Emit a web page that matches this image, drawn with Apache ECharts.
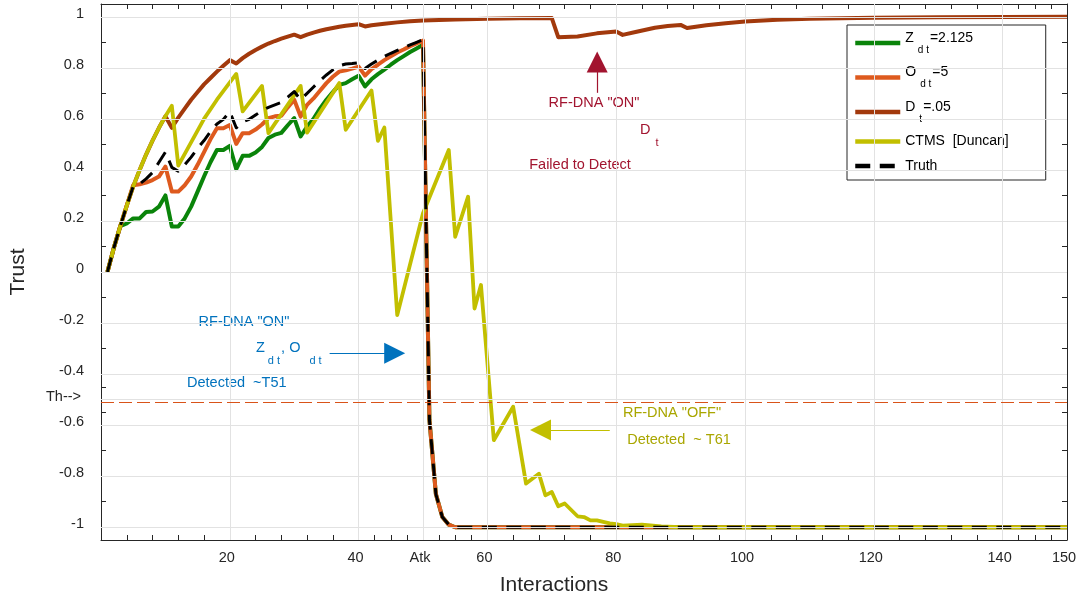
<!DOCTYPE html>
<html>
<head>
<meta charset="utf-8">
<script src="https://cdn.jsdelivr.net/npm/echarts@6/dist/echarts.min.js"></script>
<style>
  html, body { margin: 0; padding: 0; background: #fff; }
  #chart { width: 1082px; height: 602px; }
</style>
</head>
<body>
<div id="chart"></div>
<script>
// Trust per interaction, as [interaction, trust]
const zdt = [[1,0],[2,0.095],[3,0.18],[4,0.19],[5,0.21],[6,0.21],[7,0.235],[8,0.237],[9,0.256],[10,0.30],
  [11,0.178],[12,0.178],[13,0.21],[14,0.256],[15,0.315],[16,0.374],[17,0.43],[18,0.478],[19,0.478],[20,0.494],
  [21,0.403],[22,0.455],[23,0.455],[24,0.468],[25,0.49],[26,0.525],[27,0.538],[28,0.545],[29,0.575],[30,0.603],
  [31,0.531],[32,0.57],[33,0.60],[34,0.64],[35,0.675],[36,0.705],[37,0.733],[38,0.74],[39,0.755],[40,0.769],
  [41,0.727],[42,0.755],[43,0.775],[44,0.793],[45,0.812],[46,0.83],[47,0.846],[48,0.862],[49,0.876],[50,0.89],
  [51,-0.58],[52,-0.87],[53,-0.96],[54,-0.99],[55,-1],[150,-1]];

const odt = [[1,0],[2,0.095],[3,0.18],[4,0.26],[5,0.34],[6,0.344],[7,0.35],[8,0.36],[9,0.374],[10,0.413],
  [11,0.315],[12,0.315],[13,0.34],[14,0.374],[15,0.42],[16,0.47],[17,0.52],[18,0.563],[19,0.563],[20,0.576],
  [21,0.502],[22,0.544],[23,0.544],[24,0.558],[25,0.578],[26,0.603],[27,0.61],[28,0.612],[29,0.645],[30,0.675],
  [31,0.609],[32,0.655],[33,0.68],[34,0.71],[35,0.74],[36,0.765],[37,0.785],[38,0.79],[39,0.797],[40,0.805],
  [41,0.769],[42,0.795],[43,0.812],[44,0.83],[45,0.845],[46,0.86],[47,0.872],[48,0.885],[49,0.896],[50,0.907],
  [51,-0.58],[52,-0.87],[53,-0.96],[54,-0.99],[55,-1],[150,-1]];

const dt = [[1,0],[2,0.095],[3,0.18],[4,0.26],[5,0.335],[6,0.40],[7,0.46],[8,0.515],[9,0.565],[10,0.61],
  [11,0.565],[12,0.605],[13,0.64],[14,0.675],[15,0.705],[16,0.735],[17,0.76],[18,0.785],[19,0.808],[20,0.83],
  [21,0.817],[22,0.838],[23,0.855],[24,0.87],[25,0.883],[26,0.895],[27,0.905],[28,0.914],[29,0.922],[30,0.93],
  [31,0.92],[32,0.93],[33,0.938],[34,0.945],[35,0.951],[36,0.956],[37,0.961],[38,0.965],[39,0.968],[40,0.971],
  [41,0.962],[42,0.967],[44,0.973],[46,0.978],[48,0.982],[50,0.985],[55,0.989],[60,0.992],[65,0.994],[70,0.995],
  [71,0.92],[74,0.923],[77,0.935],[80,0.942],[81,0.929],[83,0.94],[86,0.957],[88,0.964],[90,0.968],[91,0.956],
  [94,0.967],[97,0.975],[100,0.981],[105,0.988],[110,0.992],[120,0.996],[130,0.998],[140,0.999],[150,1.0]];

const ctms = [[1,0],[2,0.095],[3,0.18],[4,0.26],[5,0.335],[6,0.40],[7,0.46],[8,0.515],[9,0.565],[10,0.61],
  [11,0.651],[12,0.417],[16,0.60],[18,0.675],[21,0.776],[22,0.629],[25,0.729],[26,0.544],[31,0.729],[32,0.546],
  [37,0.74],[38,0.557],[42,0.711],[43,0.514],[44,0.566],[46,-0.169],[50,0.23],[54,0.478],[55,0.138],[57,0.295],
  [58,-0.143],[59,-0.051],[61,-0.659],[64,-0.528],[66,-0.829],[68,-0.79],[69,-0.875],[70,-0.862],[71,-0.918],[72,-0.907],
  [74,-0.957],[75,-0.96],[76,-0.973],[77,-0.973],[79,-0.985],[80,-0.988],[81,-0.994],[84,-0.99],[87,-0.997],[90,-1],[150,-1]];

const truth = [[1,0],[2,0.095],[3,0.18],[4,0.26],[5,0.335],[6,0.345],[7,0.365],[8,0.39],[9,0.43],[10,0.47],
  [11,0.41],[12,0.395],[13,0.42],[14,0.45],[15,0.485],[16,0.515],[17,0.55],[18,0.58],[19,0.598],[20,0.628],
  [21,0.565],[22,0.588],[23,0.598],[24,0.615],[25,0.632],[26,0.645],[27,0.655],[28,0.665],[29,0.685],[30,0.707],
  [31,0.675],[32,0.70],[33,0.725],[34,0.75],[35,0.772],[36,0.792],[37,0.808],[38,0.815],[39,0.817],[40,0.82],
  [41,0.797],[42,0.815],[43,0.83],[44,0.845],[45,0.857],[46,0.868],[47,0.879],[48,0.89],[49,0.90],[50,0.91],
  [51,-0.58],[52,-0.87],[53,-0.96],[54,-0.99],[55,-1],[150,-1]];

// Ticks and grid positions
const xMajor = [20, 40, 50, 60, 80, 100, 120, 140];
const xLabels = [20, 40, 50, 60, 80, 100, 120, 140, 150];
const xMinor = [4, 8, 12, 16, 24, 28, 32, 36, 42.5, 45, 47.5, 52.5, 55, 57.5, 64, 68, 72, 76,
  84, 88, 92, 96, 104, 108, 112, 116, 124, 128, 132, 136, 142.5, 145, 147.5];
const yMajor = [-1, -0.8, -0.6, -0.5, -0.4, -0.2, 0, 0.2, 0.4, 0.6, 0.8, 1];
const yMinor = [-0.9, -0.7, -0.55, -0.45, -0.3, -0.1, 0.1, 0.3, 0.5, 0.7, 0.9];
const attackAt = 50;
const thresholdTick = -0.5;
const thresholdLine = -0.506;

const FONT = '"Liberation Sans", Arial, Helvetica, sans-serif';
const AX = '#262626';
const GRID = '#e2e2e2';
const BLUE = '#0072BD';
const RED = '#A2142F';
const OLIVE_TXT = '#a9a600';
const OLIVE = '#c2bf00';

const names = ['Zdt', 'Odt', 'Dt', 'CTMS', 'Truth'];
const legendText = {
  Zdt: '{m|Z}{s|d t}{m|=2.125}',
  Odt: '{m|O}{s|d t}{m|=5}',
  Dt: '{m|D}{s|t}{m|=.05}',
  CTMS: 'CTMS  [Duncan]',
  Truth: 'Truth'
};

function tickAxis(kind, position, values, len, withLine) {
  const a = {
    type: 'value',
    position: position,
    axisLine: { show: withLine, onZero: false, lineStyle: { color: AX, width: 1 } },
    axisTick: { show: true, inside: true, length: len, customValues: values, lineStyle: { color: AX, width: 1 } },
    axisLabel: { show: false },
    splitLine: { show: false }
  };
  if (kind === 'x') { a.min = 0; a.max = 150; } else { a.min = -1.05; a.max = 1.05; }
  return a;
}

const xMain = tickAxis('x', 'bottom', xMajor, 10, true);
xMain.axisLabel = {
  show: true, customValues: xLabels, color: AX, fontSize: 14.5, fontFamily: FONT,
  margin: 10, padding: [0, 6, 0, 0],
  formatter: v => (v === attackAt ? 'Atk' : String(v))
};
xMain.name = 'Interactions';
xMain.nameLocation = 'middle';
xMain.nameGap = 35;
xMain.nameTextStyle = { fontSize: 21, color: AX, fontFamily: FONT, padding: [0, 60, 0, 0] };

const yMain = tickAxis('y', 'left', yMajor, 10, true);
yMain.axisLabel = {
  show: true, customValues: yMajor, color: AX, fontSize: 14.5, fontFamily: FONT,
  margin: 17, padding: [0, 0, 6, 0],
  formatter: v => (Math.abs(v - thresholdTick) < 1e-9 ? '{th|Th-->}' : String(v)),
  rich: { th: { fontSize: 14.5, color: AX, fontFamily: FONT, padding: [0, 3, 0, 0] } }
};
yMain.name = 'Trust';
yMain.nameLocation = 'middle';
yMain.nameGap = 72;
yMain.nameTextStyle = { fontSize: 21, color: AX, fontFamily: FONT };

function lineSeries(name, data, color, width, extra) {
  return {
    name: name, type: 'line', data: data, symbol: 'none', z: 3,
    lineStyle: Object.assign({ color: color, width: width, join: 'round', cap: 'butt' }, extra || {}),
    itemStyle: { color: color },
    emphasis: { disabled: true }
  };
}

const gridLines = [].concat(
  xMajor.map(v => ({ xAxis: v })),
  yMajor.map(v => ({ yAxis: v }))
);

const option = {
  animation: false,
  backgroundColor: '#fff',
  grid: { left: 100, right: 15, top: 4, height: 536 },
  xAxis: [
    xMain,
    tickAxis('x', 'bottom', xMinor, 5, false),
    tickAxis('x', 'top', xMajor, 10, true),
    tickAxis('x', 'top', xMinor, 5, false)
  ],
  yAxis: [
    yMain,
    tickAxis('y', 'left', yMinor, 5, false),
    tickAxis('y', 'right', yMajor, 10, true),
    tickAxis('y', 'right', yMinor, 5, false)
  ],
  legend: {
    data: names,
    orient: 'vertical',
    left: 847, top: 25,
    backgroundColor: '#fff',
    borderColor: AX, borderWidth: 1, borderRadius: 0,
    padding: [6, 37, 7, 6],
    itemGap: 10.5, itemWidth: 45, itemHeight: 14,
    selectedMode: false,
    itemStyle: { opacity: 0 },
    lineStyle: { width: 4.5 },
    formatter: n => legendText[n],
    textStyle: {
      fontSize: 14, color: '#000', fontFamily: FONT,
      rich: {
        m: { fontSize: 14, height: 14, color: '#000', fontFamily: FONT, padding: [0, 0, 10, 0] },
        s: { fontSize: 10, height: 10, color: '#000', fontFamily: FONT, padding: [14, 1, 0, 4] }
      }
    }
  },
  series: [
    {
      type: 'line', data: [], silent: true, z: 1,
      markLine: {
        silent: true, symbol: 'none', animation: false,
        label: { show: false },
        lineStyle: { color: GRID, width: 1, type: 'solid' },
        emphasis: { disabled: true },
        data: gridLines.concat([
          { yAxis: thresholdLine, lineStyle: { color: '#D95319', width: 1, type: [13, 5] } }
        ])
      }
    },
    lineSeries('Zdt', zdt, '#0a840a', 4),
    lineSeries('Odt', odt, '#DE5A1E', 4),
    lineSeries('Dt', dt, '#a2390c', 4),
    lineSeries('CTMS', ctms, OLIVE, 3.8),
    lineSeries('Truth', truth, '#000', 3, { type: [15, 9.5] }),
    {
      type: 'line', data: [], silent: true, z: 5,
      markLine: {
        silent: true, animation: false,
        symbol: ['none', 'triangle'], symbolSize: 21,
        label: { show: false },
        emphasis: { disabled: true },
        data: [
          [{ coord: [35.5, -0.318], lineStyle: { color: BLUE, width: 1.2, type: 'solid' }, itemStyle: { color: BLUE } },
           { coord: [45.6, -0.318] }],
          [{ coord: [77.05, 0.702], lineStyle: { color: RED, width: 1.2, type: 'solid' }, itemStyle: { color: RED } },
           { coord: [77.05, 0.8225] }],
          [{ coord: [79.0, -0.619], lineStyle: { color: OLIVE, width: 1.2, type: 'solid' }, itemStyle: { color: OLIVE } },
           { coord: [68.25, -0.619] }]
        ]
      }
    }
  ],
  graphic: [
    { type: 'text', x: 244, y: 322, silent: true,
      style: { text: 'RF-DNA "ON"', fill: BLUE, fontSize: 14.5, fontFamily: FONT, align: 'center', verticalAlign: 'middle' } },
    { type: 'text', x: 256, y: 354, silent: true,
      style: {
        text: '{m|Z}{s|d t}{m|, O}{s2|d t}', fill: BLUE, fontSize: 14.5, fontFamily: FONT,
        align: 'left', verticalAlign: 'middle',
        rich: {
          m: { fill: BLUE, fontSize: 14.5, fontFamily: FONT, height: 15, padding: [0, 0, 12, 0] },
          s: { fill: BLUE, fontSize: 11, fontFamily: FONT, height: 11, padding: [13, 1, 0, 3] },
          s2: { fill: BLUE, fontSize: 11, fontFamily: FONT, height: 11, padding: [13, 0, 0, 9] }
        }
      } },
    { type: 'text', x: 187, y: 383, silent: true,
      style: { text: 'Detected  ~T51', fill: BLUE, fontSize: 14.5, fontFamily: FONT, align: 'left', verticalAlign: 'middle' } },
    { type: 'text', x: 594, y: 103, silent: true,
      style: { text: 'RF-DNA "ON"', fill: RED, fontSize: 14.5, fontFamily: FONT, align: 'center', verticalAlign: 'middle' } },
    { type: 'text', x: 640, y: 135, silent: true,
      style: {
        text: '{m|D}{s|t}', fill: RED, fontSize: 14.5, fontFamily: FONT,
        align: 'left', verticalAlign: 'middle',
        rich: {
          m: { fill: RED, fontSize: 14.5, fontFamily: FONT, height: 15, padding: [0, 0, 11, 0] },
          s: { fill: RED, fontSize: 11, fontFamily: FONT, height: 11, padding: [15, 0, 0, 5] }
        }
      } },
    { type: 'text', x: 580, y: 165, silent: true,
      style: { text: 'Failed to Detect', fill: RED, fontSize: 14.5, fontFamily: FONT, align: 'center', verticalAlign: 'middle' } },
    { type: 'text', x: 672, y: 413, silent: true,
      style: { text: 'RF-DNA "OFF"', fill: OLIVE_TXT, fontSize: 14.5, fontFamily: FONT, align: 'center', verticalAlign: 'middle' } },
    { type: 'text', x: 679, y: 440, silent: true,
      style: { text: 'Detected  ~ T61', fill: OLIVE_TXT, fontSize: 14.5, fontFamily: FONT, align: 'center', verticalAlign: 'middle' } }
  ]
};

const chart = echarts.init(document.getElementById('chart'), null, { renderer: 'canvas' });
chart.setOption(option);
</script>
</body>
</html>
